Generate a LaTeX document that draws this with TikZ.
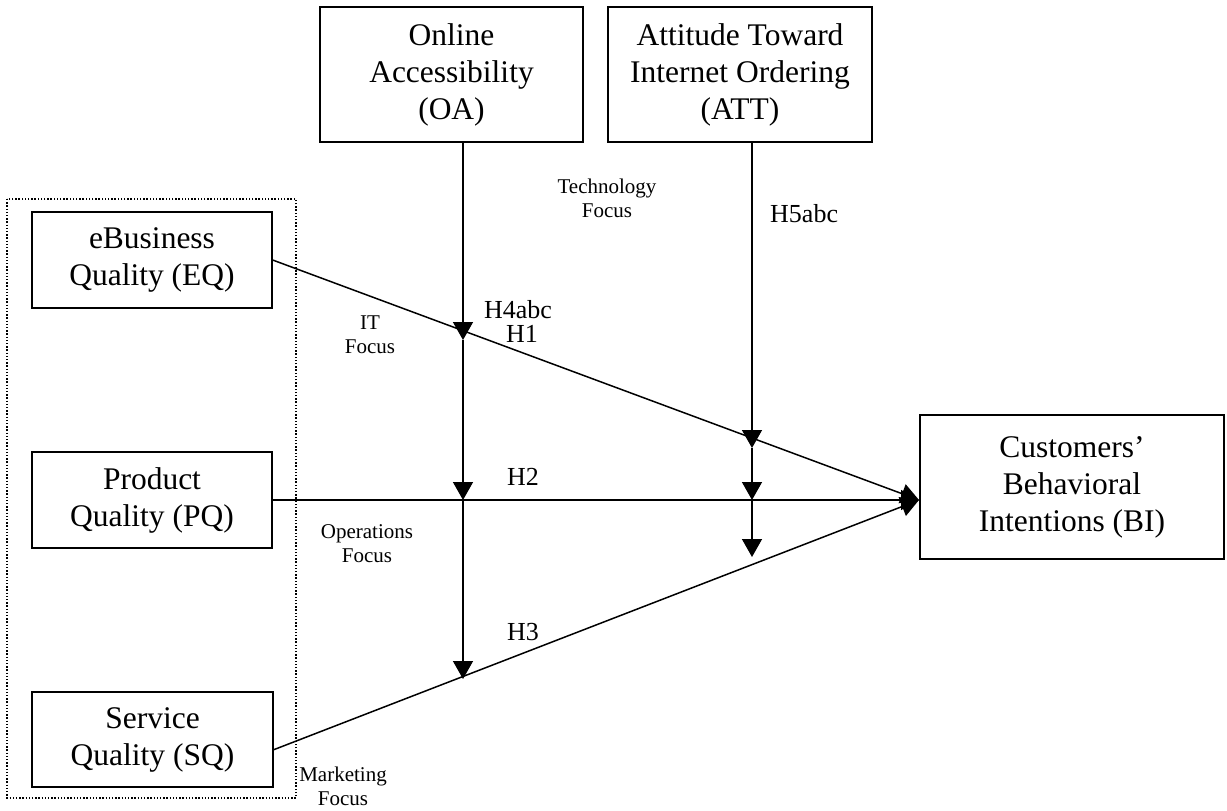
\documentclass[tikz,border=0pt]{standalone}
\usepackage{fontspec}
\setmainfont{Liberation Serif}
\usetikzlibrary{arrows.meta}
\begin{document}
\begin{tikzpicture}[x=1pt,y=-1pt,
  box/.style={draw, line width=1.3pt, inner sep=0pt, align=center, font=\fontsize{31.5}{37}\selectfont},
  conn/.style={line width=1.5pt, -{Triangle[length=18pt,width=20pt]}},
  hlab/.style={inner sep=0pt, font=\fontsize{26}{30}\selectfont},
  focus/.style={inner sep=0pt, align=center, font=\fontsize{21}{24}\selectfont},
  frame/.style={line width=1.4pt, dash pattern=on 1.4pt off 1.8pt}]
\useasboundingbox (0,0) rectangle (1227,811);
% grouping frame
\draw[frame] (7,199) rectangle (296,798);
% boxes
\node[box, minimum width=263pt, minimum height=135pt] (OA) at (451.5,74.5) {Online\\Accessibility\\(OA)};
\node[box, minimum width=264pt, minimum height=135pt] (ATT) at (740,74.5) {Attitude Toward\\Internet Ordering\\(ATT)};
\node[box, minimum width=240pt, minimum height=96pt] (EQ) at (152,260) {eBusiness\\Quality (EQ)};
\node[box, minimum width=240pt, minimum height=96pt] (PQ) at (152,500) {Product\\Quality (PQ)};
\node[box, minimum width=241pt, minimum height=95pt] (SQ) at (152.5,739.5) {Service\\Quality (SQ)};
\node[box, minimum width=304pt, minimum height=144pt] (BI) at (1072,487) {Customers’\\Behavioral\\Intentions (BI)};
% anchor points
\coordinate (bin) at (919,500);
\coordinate (sqout) at (273,750);
\coordinate (a1) at (463,340);
\coordinate (a2) at (463,500);
\coordinate (a3) at (463,679);
\coordinate (b1) at (752,448);
\coordinate (b2) at (752,500);
\coordinate (b3) at (752,557);
% main paths
\draw[conn] (EQ.east) -- (bin);
\draw[conn] (PQ.east) -- (bin);
\draw[conn] (sqout) -- (bin);
% moderators
\draw[conn] (OA.south -| a1) -- (a1);
\draw[conn] (a1) -- (a2);
\draw[conn] (a2) -- (a3);
\draw[conn] (ATT.south -| b1) -- (b1);
\draw[conn] (b1) -- (b2);
\draw[conn] (b2) -- (b3);
% labels
\node[hlab, anchor=base west] (h5) at (770,222) {H5abc};
\node[hlab, anchor=base] (h4) at (518,318) {H4abc};
\node[hlab, anchor=base] (h1) at (522,342) {H1};
\node[hlab, anchor=base] (h2) at (523,485) {H2};
\node[hlab, anchor=base] (h3) at (523,640) {H3};
\node[focus] (tf) at (607,198) {Technology\\Focus};
\node[focus] (itf) at (370,335) {IT\\Focus};
\node[focus] (of) at (367,544) {Operations\\Focus};
\node[focus] (mf) at (343,786) {Marketing\\Focus};
\end{tikzpicture}
\end{document}
